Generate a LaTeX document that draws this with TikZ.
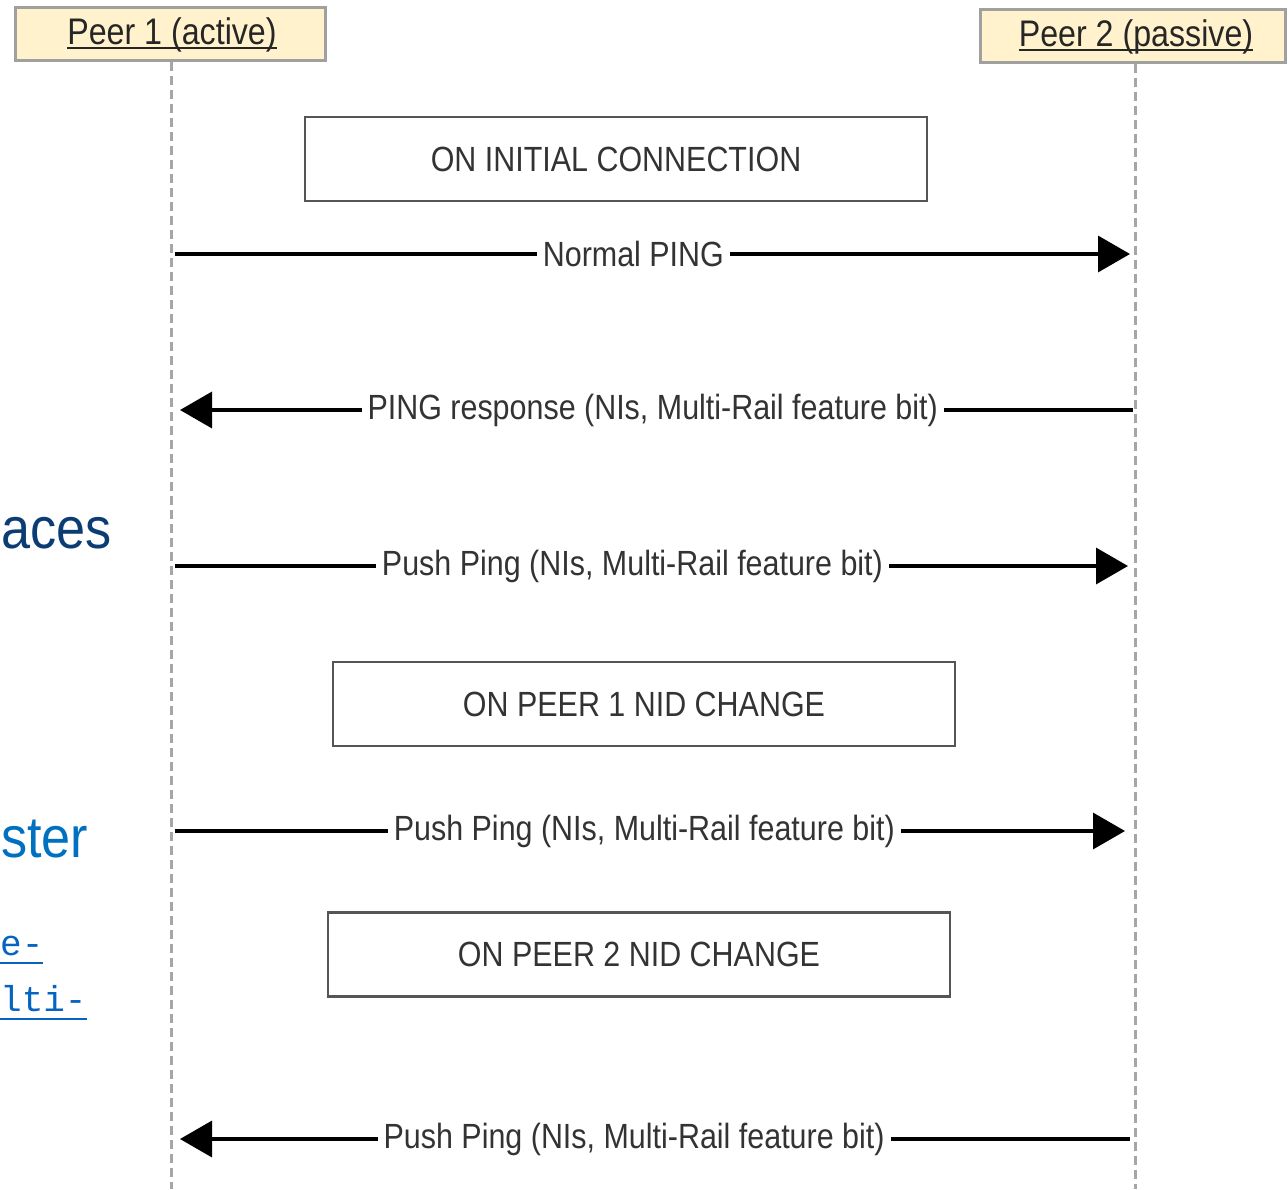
\documentclass[tikz,border=0pt]{standalone}
\usepackage{fontspec}
\usepackage{xcolor}
\usepackage{tikz}
\usetikzlibrary{arrows.meta,positioning}
\newfontfamily\seqfont[FakeStretch=0.87]{Liberation Sans}
\newfontfamily\slidefont[FakeStretch=0.9]{Liberation Sans}
\newfontfamily\linkfont{Liberation Mono}
\definecolor{peerfill}{HTML}{FFF2CC}
\definecolor{peerline}{HTML}{A0A0A0}
\definecolor{lifec}{HTML}{A6A6A6}
\definecolor{boxline}{HTML}{555555}
\definecolor{txtc}{HTML}{333333}
\definecolor{navy}{HTML}{0B3D74}
\definecolor{slideblue}{HTML}{0070C0}
\definecolor{linkblue}{HTML}{0563C1}

% underline drawn as a rule, depth and thickness given
\newcommand\uline[3]{\setbox0\hbox{#3}\rlap{\rule[-#1]{\wd0}{#2}}\copy0}

\begin{document}
\begin{tikzpicture}[
    x=1pt, y=-1pt,
    font=\seqfont\fontsize{35}{40}\selectfont,
    peer/.style={
      draw=peerline, fill=peerfill, line width=3pt,
      minimum height=53pt, inner sep=0pt},
    title/.style={text=black!85, anchor=base,
      font=\seqfont\fontsize{37}{42}\selectfont},
    life/.style={draw=lifec, line width=3pt, dash pattern=on 9pt off 5pt},
    phase/.style={
      draw=boxline, line width=2.5pt, text=txtc,
      minimum width=622pt, minimum height=84pt},
    msg/.style={line width=3.5pt, -{Triangle[length=32pt, width=36pt]}},
    lbl/.style={fill=white, text=txtc, inner sep=6pt},
    slide/.style={anchor=base west, inner sep=0pt,
      font=\slidefont\fontsize{58}{64}\selectfont},
    link/.style={anchor=base west, inner sep=0pt, text=linkblue,
      font=\linkfont\fontsize{36}{42}\selectfont}
  ]
  \useasboundingbox (0,0) rectangle (1288,1189);

  % --- peers
  \node[peer, minimum width=310pt] (p1) at (170,33.5) {};
  \node[title] (p1t) at (172,44) {\uline{5pt}{2.2pt}{Peer 1 (active)}};
  \node[peer, minimum width=305pt] (p2) at (1132.5,35.5) {};
  \node[title] (p2t) at (1136,46) {\uline{5pt}{2.2pt}{Peer 2 (passive)}};

  % --- lifelines
  \coordinate (l1end) at (171,1189);
  \coordinate (l2end) at (1135,1189);
  \draw[life] (p1.south -| l1end) -- (l1end);
  \draw[life] (p2.south -| l2end) -- (l2end);

  % --- phases
  \node[phase] (ini) at (616,159) {ON INITIAL CONNECTION};
  \node[phase] (chg1) at (644,704) {ON PEER 1 NID CHANGE};
  \node[phase] (chg2) at (639,954.5) {ON PEER 2 NID CHANGE};

  % --- message ends
  \coordinate (m1a) at (175,254);  \coordinate (m1b) at (1130,254);
  \coordinate (m2a) at (1133,410); \coordinate (m2b) at (180,410);
  \coordinate (m3a) at (175,566);  \coordinate (m3b) at (1128,566);
  \coordinate (m4a) at (175,831);  \coordinate (m4b) at (1125,831);
  \coordinate (m5a) at (1130,1139); \coordinate (m5b) at (180,1139);

  % --- messages
  \draw[msg] (m1a) -- node[lbl, pos=0.48] {Normal PING} (m1b);
  \draw[msg] (m2a) -- node[lbl, pos=0.504] {PING response (NIs, Multi-Rail feature bit)} (m2b);
  \draw[msg] (m3a) -- node[lbl, pos=0.48] {Push Ping (NIs, Multi-Rail feature bit)} (m3b);
  \draw[msg] (m4a) -- node[lbl, pos=0.494] {Push Ping (NIs, Multi-Rail feature bit)} (m4b);
  \draw[msg] (m5a) -- node[lbl, pos=0.522] {Push Ping (NIs, Multi-Rail feature bit)} (m5b);

  % --- slide text behind
  \node[slide, text=navy] (s1) at (1,548) {aces};
  \node[slide, text=slideblue] (s2) at (1,857) {ster};
  \node[link] (s3) at (0,955) {\uline{9pt}{2pt}{e-}};
  \node[link] (s4) at (0,1011) {\uline{9pt}{2pt}{lti-}};

\end{tikzpicture}
\end{document}
